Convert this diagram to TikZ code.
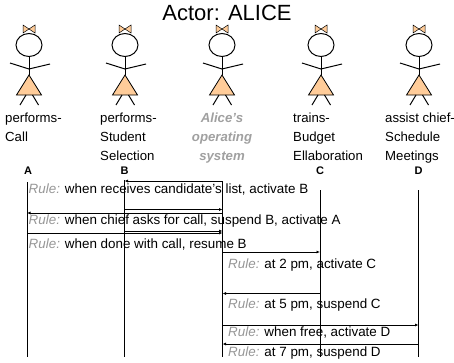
\documentclass[tikz,border=0pt]{standalone}
\usepackage{fontspec}
\setmainfont{Liberation Sans}
\usetikzlibrary{arrows.meta}
\definecolor{skirt}{RGB}{255,204,153}
\definecolor{rulegray}{RGB}{150,150,150}
\definecolor{osgray}{RGB}{160,160,160}

\tikzset{
  lifeline/.style={line width=1pt},
  msg/.style={line width=0.8pt, -{Latex[length=3.5pt,width=3pt]}},
  ruletext/.style={anchor=base west, inner sep=0pt, font=\fontsize{13.4}{15}\selectfont},
  % multi-line labels: the base anchor sits on the last line
  rolelabel/.style={anchor=base west, inner sep=0pt, align=left, font=\fontsize{13.2}{19}\selectfont},
  oslabel/.style={anchor=base, inner sep=0pt, align=center, text=osgray, font=\fontsize{13.2}{19}\selectfont\bfseries\itshape},
  tag/.style={anchor=base, inner sep=0pt, font=\fontsize{11}{11}\selectfont\bfseries},
  girl/.pic={
    % bow
    \draw[line width=0.5pt, fill=skirt] (-6,25) -- (-6,33) -- (0,29) -- cycle;
    \draw[line width=0.5pt, fill=skirt] (6,25) -- (6,33) -- (0,29) -- cycle;
    % head, body, arms
    \draw[line width=1pt] (0,45) ellipse [x radius=13, y radius=11.5];
    \draw[line width=1pt] (0,56.5) -- (0,75);
    \draw[line width=1pt] (-19,63) -- (0,69) -- (21,64);
    % skirt and legs
    \draw[line width=0.8pt, fill=skirt] (0,75) -- (-12.5,95) -- (12.5,95) -- cycle;
    \draw[line width=1pt] (-3,95) -- (-9,105) (3.5,95) -- (9.5,105);
  }
}
\newcommand{\rulew}{{\color{rulegray}\itshape Rule:}}

\begin{document}
\begin{tikzpicture}[x=1pt,y=-1pt]
\useasboundingbox (0,0) rectangle (454,362);

% title
\node[anchor=base, inner sep=0pt, font=\fontsize{22}{22}\selectfont] (title) at (227,20.5) {Actor: ALICE};

% actors
\pic (actA) at (29,0) {girl};
\pic (actB) at (125,0) {girl};
\pic (actOS) at (222,0) {girl};
\pic (actC) at (321,0) {girl};
\pic (actD) at (419,0) {girl};

% role labels
\node[rolelabel] (labA) at (5,141) {performs-\\Call};
\node[rolelabel] (labB) at (100,160) {performs-\\Student\\Selection};
\node[oslabel] (labOS) at (222,160) {Alice's\\operating\\system};
\node[rolelabel] (labC) at (293,160) {trains-\\Budget\\Ellaboration};
\node[rolelabel] (labD) at (385,160) {assist chief-\\Schedule\\Meetings};

% lifeline tags
\node[tag] (tagA) at (28,174) {A};
\node[tag] (tagB) at (124.5,174) {B};
\node[tag] (tagC) at (320,174) {C};
\node[tag] (tagD) at (418.5,174) {D};

% lifelines
\coordinate (A0) at (27,182);    \coordinate (Az) at (27,357);
\coordinate (B0) at (124.5,180); \coordinate (Bz) at (124.5,357);
\coordinate (O0) at (222.5,181); \coordinate (Oz) at (222.5,357);
\coordinate (C0) at (320,190);   \coordinate (Cz) at (320,357);
\coordinate (D0) at (418.5,190); \coordinate (Dz) at (418.5,357);
\foreach \l in {A,B,O,C,D} \draw[lifeline] (\l0) -- (\l z);

% message points on the lifelines
\coordinate (O1) at (222.5,181);   \coordinate (B1) at (124.5,181);
\coordinate (B2) at (124.5,209.5); \coordinate (O2) at (222.5,209.5);
\coordinate (O3) at (222.5,213);   \coordinate (A3) at (27,213);
\coordinate (B4) at (124.5,231);   \coordinate (O4) at (222.5,231);
\coordinate (A5) at (27,233);      \coordinate (O5) at (222.5,233);
\coordinate (O6) at (222.5,252);   \coordinate (C6) at (320,252);
\coordinate (C7) at (320,293.5);   \coordinate (O7) at (222.5,293.5);
\coordinate (O8) at (222.5,325);   \coordinate (D8) at (418.5,325);
\coordinate (D9) at (418.5,344);   \coordinate (O9) at (222.5,344);

% messages
\draw[msg] (O1) -- (B1);
\draw[msg] (B2) -- (O2);
\draw[msg] (O3) -- (A3);
\draw[msg] (B4) -- (O4);
\draw[msg] (A5) -- (O5);
\draw[msg] (O6) -- (C6);
\draw[msg] (C7) -- (O7);
\draw[msg] (O8) -- (D8);
\draw[msg] (D9) -- (O9);

% rules
\node[ruletext] (r1) at (28.5,193) {\rulew{} when receives candidate’s list, activate B};
\node[ruletext] (r2) at (28.5,224) {\rulew{} when chief asks for call, suspend B, activate A};
\node[ruletext] (r3) at (28.5,248) {\rulew{} when done with call, resume B};
\node[ruletext] (r4) at (228,268) {\rulew{} at 2 pm, activate C};
\node[ruletext] (r5) at (228,308) {\rulew{} at 5 pm, suspend C};
\node[ruletext] (r6) at (228,336) {\rulew{} when free, activate D};
\node[ruletext] (r7) at (228,356) {\rulew{} at 7 pm, suspend D};
\end{tikzpicture}
\end{document}
